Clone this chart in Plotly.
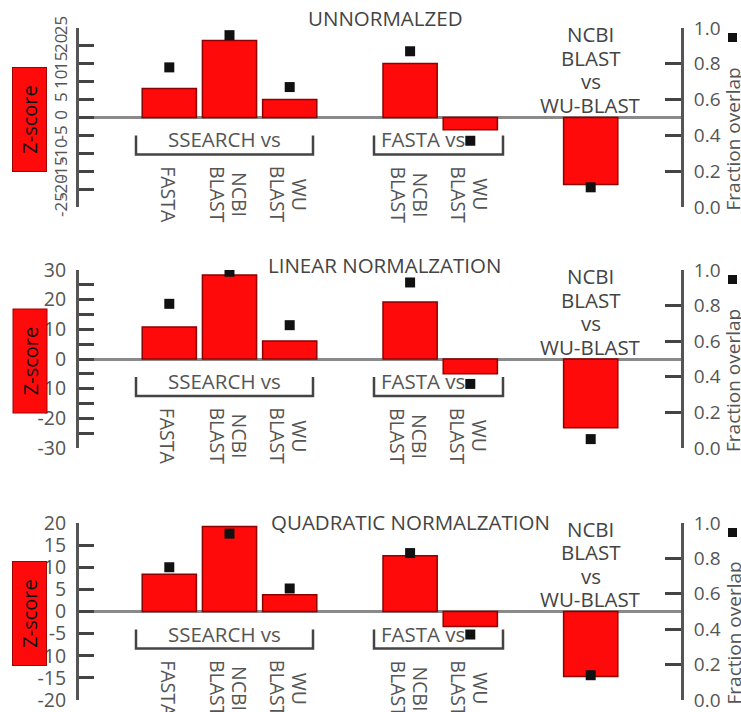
import plotly.graph_objects as go

W, H = 741, 712

# ---------------- data ----------------
categories = ["SSEARCH vs FASTA", "SSEARCH vs NCBI BLAST", "SSEARCH vs WU BLAST",
              "FASTA vs NCBI BLAST", "FASTA vs WU BLAST", "NCBI BLAST vs WU-BLAST"]
axis_order = ["SSEARCH vs FASTA", "SSEARCH vs NCBI BLAST", "SSEARCH vs WU BLAST", " ",
              "FASTA vs NCBI BLAST", "FASTA vs WU BLAST", "  ", "NCBI BLAST vs WU-BLAST"]
category_labels = ["FASTA", "NCBI<br>BLAST", "WU<br>BLAST", "NCBI<br>BLAST", "WU<br>BLAST", None]
group_labels = ["SSEARCH vs", "FASTA vs"]
last_label = "NCBI<br>BLAST<br>vs<br>WU-BLAST"

panel_titles = ["UNNORMALZED", "LINEAR NORMALZATION", "QUADRATIC NORMALZATION"]

z_unnormalized = [8.1, 21.5, 5.0, 15.1, -3.4, -18.7]
overlap_unnormalized = [0.78, 0.96, 0.67, 0.87, 0.37, 0.11]
z_linear = [10.8, 28.3, 6.1, 19.2, -5.0, -23.2]
overlap_linear = [0.81, 0.99, 0.69, 0.93, 0.36, 0.05]
z_quadratic = [8.4, 19.2, 3.8, 12.6, -3.4, -14.7]
overlap_quadratic = [0.75, 0.94, 0.63, 0.83, 0.37, 0.14]

z_series = [z_unnormalized, z_linear, z_quadratic]
overlap_series = [overlap_unnormalized, overlap_linear, overlap_quadratic]
z_limits = [25, 30, 20]
z_label_every = [5, 10, 5]
overlap_ticks = [0.0, 0.2, 0.4, 0.6, 0.8, 1.0]
overlap_tick_labels = ["0.0", "0.2", "0.4", "0.6", "0.8", "1.0"]
left_title = "Z-score"
right_title = "Fraction overlap"

# ---------------- layout geometry (pixels) ----------------
X_LEFT, X_RIGHT = 79, 681
panel_px = [(28, 207), (270, 448), (523, 700)]
title_px = [(385, 18), (384, 265), (410, 522)]
GREY = "#555555"
FONT = "Open Sans"


def px(x):
    return x / W


def py(y):
    return 1 - y / H


fig = go.Figure()
layout = dict(
    width=W, height=H, autosize=False,
    margin=dict(l=0, r=0, t=0, b=0, pad=0, autoexpand=False),
    paper_bgcolor="white", plot_bgcolor="rgba(0,0,0,0)",
    showlegend=False, font=dict(family=FONT, color=GREY),
    bargap=0.1,
)
annotations = []
shapes = []

for i in range(3):
    top, bot = panel_px[i]
    zero_px = (top + bot) / 2
    xa = "x" if i == 0 else f"x{i + 1}"
    yl = "y" if i == 0 else f"y{2 * i + 1}"
    yr = f"y{2 * i + 2}"
    xkey = "xaxis" if i == 0 else f"xaxis{i + 1}"
    ylkey = "yaxis" if i == 0 else f"yaxis{2 * i + 1}"
    yrkey = f"yaxis{2 * i + 2}"

    L = z_limits[i]
    tv = list(range(-L, L + 1, 5))
    tt = [str(v) if v % z_label_every[i] == 0 else "" for v in tv]

    layout[xkey] = dict(domain=[px(X_LEFT), px(X_RIGHT)], anchor=yl, type="category",
                        categoryorder="array", categoryarray=axis_order,
                        range=[-1.5, 8.5], visible=False, fixedrange=True)
    left = dict(domain=[py(bot), py(top)], anchor=xa, range=[-L, L],
                showline=True, linecolor=GREY, linewidth=3,
                ticks="inside", ticklen=15, tickwidth=3, tickcolor="#444",
                tickvals=tv, ticktext=tt, ticklabelstandoff=6,
                ticklabeloverflow="allow",
                tickfont=dict(size=19.5, color=GREY, family=FONT),
                zeroline=True, zerolinecolor="#8a8a8a", zerolinewidth=3,
                showgrid=False, fixedrange=True, automargin=False)
    if i == 0:
        left["tickangle"] = -90
        left["tickfont"] = dict(size=17, color=GREY, family=FONT)
        left["ticklabelstandoff"] = 2
    layout[ylkey] = left
    layout[yrkey] = dict(overlaying=yl, side="right", anchor=xa, range=[0, 1],
                         showline=True, linecolor=GREY, linewidth=3,
                         ticks="inside", ticklen=16, tickwidth=3, tickcolor="#444",
                         tickvals=overlap_ticks, ticktext=overlap_tick_labels,
                         ticklabelstandoff=6, ticklabeloverflow="allow",
                         tickfont=dict(size=19, color=GREY, family=FONT),
                         zeroline=False, showgrid=False, fixedrange=True,
                         automargin=False)

    fig.add_trace(go.Bar(x=categories, y=z_series[i], xaxis=xa, yaxis=yl, width=0.9,
                         marker=dict(color="#ff0a0a", line=dict(color="#8f0000", width=1.5)),
                         hoverinfo="skip"))
    fig.add_trace(go.Scatter(x=categories, y=overlap_series[i], xaxis=xa, yaxis=yr,
                             mode="markers",
                             marker=dict(symbol="square", size=10, color="#111111"),
                             hoverinfo="skip"))

    # panel title
    tx, ty = title_px[i]
    annotations.append(dict(text=panel_titles[i], xref="paper", yref="paper",
                            x=px(tx), y=py(ty), showarrow=False,
                            xanchor="center", yanchor="middle",
                            font=dict(size=20.5, color="#444", family=FONT)))

    # Z-score red box
    annotations.append(dict(text=left_title, xref="paper", yref="paper",
                            x=px(29.5), y=py(zero_px + 2), showarrow=False,
                            textangle=-90, width=103, height=33,
                            bgcolor="#ff0a0a", bordercolor="#a00000", borderwidth=1,
                            borderpad=0, xanchor="center", yanchor="middle",
                            font=dict(size=20, color="#111", family=FONT)))

    # right axis title + legend square
    annotations.append(dict(text=right_title, xref="paper", yref="paper",
                            x=px(733), y=py(zero_px + 22), showarrow=False,
                            textangle=-90, xanchor="center", yanchor="middle",
                            font=dict(size=19, color=GREY, family=FONT)))
    shapes.append(dict(type="rect", xref="paper", yref="paper",
                       x0=px(728), x1=px(737), y0=py(top + 5), y1=py(top + 14),
                       fillcolor="#111", line=dict(width=0)))

    # category labels (rotated, one annotation per line, tight line spacing)
    for cat, lab in zip(categories, category_labels):
        if lab is None:
            continue
        lines = lab.split("<br>")
        n = len(lines)
        for k, line in enumerate(lines):
            shift = ((n - 1) / 2 - k) * 22
            annotations.append(dict(text=line, xref=xa, yref=yl, x=cat, y=0,
                                    yshift=-77, xshift=shift - 1, showarrow=False,
                                    textangle=90, xanchor="center", yanchor="middle",
                                    font=dict(size=19.5, color=GREY, family=FONT)))
    # text block above the last bar
    for k, line in enumerate(last_label.split("<br>")):
        annotations.append(dict(text=line, xref=xa, yref=yl, x=categories[-1], y=0,
                                yshift=83 - 23.5 * k, showarrow=False, xanchor="center",
                                yanchor="middle",
                                font=dict(size=20.5, color="#444", family=FONT)))

    # group brackets
    for (x0, x1), glab, anchor in zip([(136, 313), (374, 503)], group_labels,
                                      ["center", "left"]):
        ytop, ybot = zero_px + 18, zero_px + 37
        shapes.append(dict(type="path", xref="paper", yref="paper",
                           path=f"M {px(x0)},{py(ytop)} L {px(x0)},{py(ybot)} "
                                f"L {px(x1)},{py(ybot)} L {px(x1)},{py(ytop)}",
                           line=dict(color="#444", width=2.5)))
        gx = (x0 + x1) / 2 if anchor == "center" else x0 + 5
        annotations.append(dict(text=glab, xref="paper", yref="paper",
                                x=px(gx), y=py(zero_px + 22), showarrow=False,
                                xanchor=anchor, yanchor="middle",
                                font=dict(size=20.5, color=GREY, family=FONT)))

layout["annotations"] = annotations
layout["shapes"] = shapes
fig.update_layout(**layout)
fig.write_html("out.html")
